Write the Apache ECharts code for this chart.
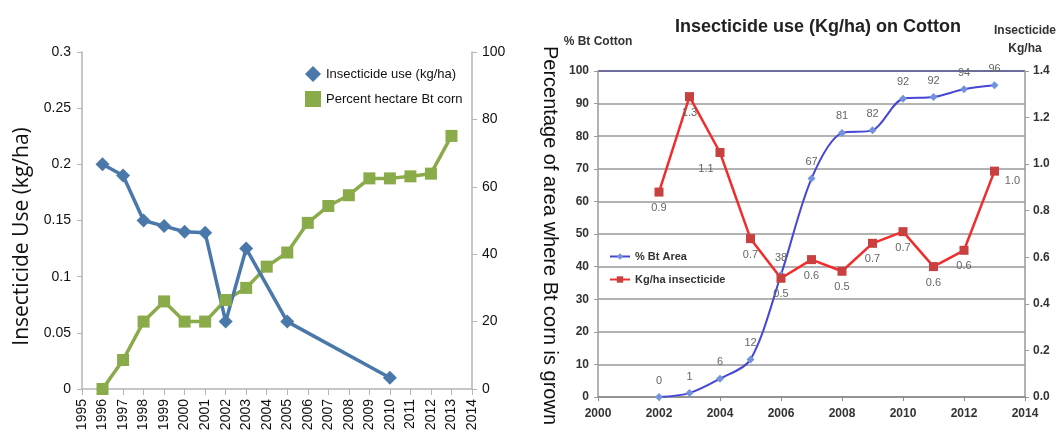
<!DOCTYPE html>
<html>
<head>
<meta charset="utf-8">
<script src="https://cdn.jsdelivr.net/npm/echarts@6/dist/echarts.min.js"></script>
<style>
html, body { margin: 0; padding: 0; background: #fff; }
#chart { width: 1064px; height: 438px; }
</style>
</head>
<body>
<div id="chart"></div>
<script>
// left panel - corn
const cornYears = [1996, 1997, 1998, 1999, 2000, 2001, 2002, 2003, 2004, 2005, 2006, 2007, 2008, 2009, 2010, 2011, 2012, 2013]
const cornInsecticide = [0.2, 0.19, 0.15, 0.145, 0.14, 0.139, 0.06, 0.125, null, 0.06, null, null, null, null, 0.01, null, null, null]
const cornBtPct = [0, 8.6, 20, 26, 20, 20, 26.4, 30, 36.3, 40.5, 49.3, 54.3, 57.5, 62.5, 62.5, 63.1, 63.9, 75.1]

// right panel - cotton
const cottonYears = [2002, 2003, 2004, 2005, 2006, 2007, 2008, 2009, 2010, 2011, 2012, 2013]
const cottonBtArea = [0, 1.2, 5.6, 11.5, 37.5, 67, 81, 81.8, 91.5, 92, 94.4, 95.6]
const cottonKgHa = [0.88, 1.29, 1.05, 0.68, 0.51, 0.59, 0.54, 0.66, 0.71, 0.56, 0.63, 0.97]

const narrow = "'Liberation Sans Narrow', 'Liberation Sans', sans-serif"
const arial = "'Liberation Sans', Arial, sans-serif"

function pairs(xs, ys) {
  return xs.map((x, i) => [x, ys[i]]).filter(d => d[1] !== null)
}

// red label offsets (a couple sit to the side)
const kgLabelPos = { 2: [-14, 16], 11: [18, 10] }

let option = {
  animation: false,
  title: {
    text: 'Insecticide use (Kg/ha) on Cotton',
    left: 670,
    top: 13,
    textStyle: { fontFamily: arial, fontWeight: 'bold', fontSize: 18, color: '#222' }
  },
  legend: [
    {
      data: [
        { name: 'Insecticide use (kg/ha)', icon: 'diamond' },
        { name: 'Percent hectare Bt corn', icon: 'rect' }
      ],
      orient: 'vertical',
      left: 300,
      top: 61,
      itemGap: 9,
      itemWidth: 16,
      itemHeight: 16,
      textStyle: { fontFamily: narrow, fontSize: 13, color: '#111' }
    },
    {
      data: ['% Bt Area', 'Kg/ha insecticide'],
      orient: 'vertical',
      left: 604,
      top: 246,
      itemGap: 12,
      itemWidth: 20,
      itemHeight: 8,
      textStyle: { fontFamily: arial, fontWeight: 'bold', fontSize: 11, color: '#333' }
    }
  ],
  grid: [
    { left: 82, top: 52, width: 390, height: 337 },
    { left: 598, top: 71, width: 427, height: 326 }
  ],
  xAxis: [
    {
      gridIndex: 0,
      type: 'value',
      min: 1995,
      max: 2014,
      interval: 1,
      splitLine: { show: false },
      axisLine: { lineStyle: { color: '#b5b5b5', width: 1.5 } },
      axisTick: { show: true, length: 6, lineStyle: { color: '#b5b5b5' } },
      axisLabel: {
        rotate: 90,
        margin: 10,
        hideOverlap: false,
        fontFamily: narrow,
        fontSize: 14,
        color: '#111',
        formatter: v => String(v)
      }
    },
    {
      gridIndex: 1,
      type: 'value',
      min: 2000,
      max: 2014,
      interval: 2,
      splitLine: { show: false },
      axisLine: { lineStyle: { color: '#8a8a8a', width: 1.5 } },
      axisTick: { show: true, length: 4, lineStyle: { color: '#8a8a8a' } },
      axisLabel: {
        margin: 11,
        fontFamily: arial,
        fontWeight: 'bold',
        fontSize: 12,
        color: '#333',
        formatter: v => String(v)
      }
    }
  ],
  yAxis: [
    {
      gridIndex: 0,
      type: 'value',
      min: 0,
      max: 0.3,
      interval: 0.05,
      name: 'Insecticide Use (kg/ha)',
      nameLocation: 'middle',
      nameRotate: 90,
      nameGap: 49,
      nameTextStyle: { fontFamily: "'Open Sans', sans-serif", fontSize: 21, color: '#111', padding: [0, 32, 0, 0] },
      splitLine: { show: false },
      axisLine: { show: true, lineStyle: { color: '#b5b5b5', width: 1.5 } },
      axisTick: { show: true, length: 5, lineStyle: { color: '#b5b5b5' } },
      axisLabel: { margin: 11, fontFamily: narrow, fontSize: 14, color: '#111' }
    },
    {
      gridIndex: 0,
      type: 'value',
      position: 'right',
      min: 0,
      max: 100,
      interval: 20,
      name: 'Percentage of area where Bt corn is grown',
      nameLocation: 'middle',
      nameRotate: -90,
      nameGap: 68,
      nameTextStyle: { fontFamily: arial, fontSize: 20, color: '#111', padding: [0, 0, 0, 30] },
      splitLine: { show: false },
      axisLine: { show: true, lineStyle: { color: '#b5b5b5', width: 1.5 } },
      axisTick: { show: true, length: 5, lineStyle: { color: '#b5b5b5' } },
      axisLabel: { margin: 10, fontFamily: narrow, fontSize: 14, color: '#111' }
    },
    {
      gridIndex: 1,
      type: 'value',
      min: 0,
      max: 100,
      interval: 10,
      name: '% Bt Cotton',
      nameLocation: 'end',
      nameGap: 23,
      nameTextStyle: { fontFamily: arial, fontWeight: 'bold', fontSize: 12, color: '#333', align: 'center' },
      splitLine: {
        show: true,
        lineStyle: {
          color: ['#9a9a9a', '#9a9a9a', '#9a9a9a', '#9a9a9a', '#9a9a9a', '#9a9a9a', '#9a9a9a', '#9a9a9a', '#9a9a9a', '#9a9a9a', '#3c3c7a'],
          width: 1.5
        }
      },
      axisLine: { show: true, lineStyle: { color: '#9a9a9a', width: 1.5 } },
      axisTick: { show: true, length: 4, lineStyle: { color: '#9a9a9a' } },
      axisLabel: { margin: 9, fontFamily: arial, fontWeight: 'bold', fontSize: 12, color: '#333' }
    },
    {
      gridIndex: 1,
      type: 'value',
      position: 'right',
      min: 0,
      max: 1.4,
      interval: 0.2,
      name: 'Insecticide\nKg/ha',
      nameLocation: 'end',
      nameGap: 13,
      nameTextStyle: { fontFamily: arial, fontWeight: 'bold', fontSize: 12, lineHeight: 18, color: '#333', align: 'center' },
      splitLine: { show: false },
      axisLine: { show: true, lineStyle: { color: '#9a9a9a', width: 1.5 } },
      axisTick: { show: true, length: 4, lineStyle: { color: '#9a9a9a' } },
      axisLabel: {
        margin: 8,
        fontFamily: arial,
        fontWeight: 'bold',
        fontSize: 12,
        color: '#333',
        formatter: v => v.toFixed(1)
      }
    }
  ],
  series: [
    {
      name: 'Percent hectare Bt corn',
      type: 'line',
      xAxisIndex: 0,
      yAxisIndex: 1,
      data: pairs(cornYears, cornBtPct),
      symbol: 'rect',
      symbolSize: 12,
      lineStyle: { color: '#8aab4a', width: 3.5 },
      itemStyle: { color: '#8aab4a' }
    },
    {
      name: 'Insecticide use (kg/ha)',
      type: 'line',
      xAxisIndex: 0,
      yAxisIndex: 0,
      data: pairs(cornYears, cornInsecticide),
      symbol: 'diamond',
      symbolSize: 14,
      lineStyle: { color: '#4a78aa', width: 3.5 },
      itemStyle: { color: '#4a78aa' }
    },
    {
      name: '% Bt Area',
      type: 'line',
      xAxisIndex: 1,
      yAxisIndex: 2,
      data: pairs(cottonYears, cottonBtArea),
      smooth: 0.3,
      symbol: 'diamond',
      symbolSize: 8,
      lineStyle: { color: '#4646d6', width: 2 },
      itemStyle: { color: '#7393dc' },
      label: {
        show: true,
        position: 'top',
        distance: 7,
        fontFamily: arial,
        fontSize: 11,
        color: '#666',
        formatter: p => String(Math.round(p.value[1]))
      }
    },
    {
      name: 'Kg/ha insecticide',
      type: 'line',
      xAxisIndex: 1,
      yAxisIndex: 3,
      data: pairs(cottonYears, cottonKgHa).map((d, i) => {
        const off = kgLabelPos[i]
        return off ? { value: d, label: { position: 'inside', offset: off } } : d
      }),
      symbol: 'rect',
      symbolSize: 9,
      lineStyle: { color: '#f22c2c', width: 2.5 },
      itemStyle: { color: '#c84040' },
      label: {
        show: true,
        position: 'bottom',
        distance: 6,
        fontFamily: arial,
        fontSize: 11,
        color: '#666',
        formatter: p => p.value[1].toFixed(1)
      }
    }
  ]
}

let myChart = echarts.init(document.getElementById('chart'))
myChart.setOption(option)
</script>
</body>
</html>
